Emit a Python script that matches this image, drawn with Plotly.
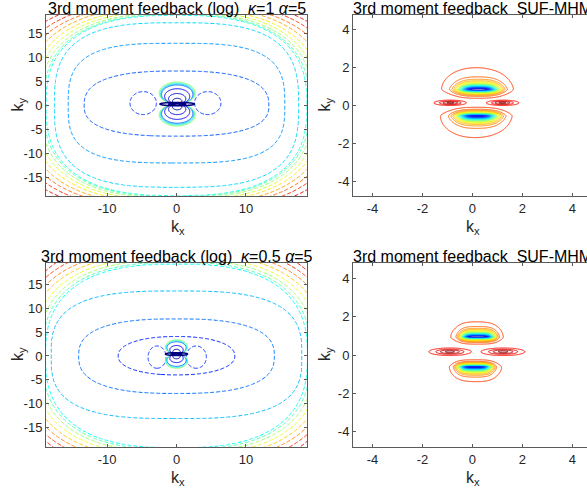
import numpy as np
import plotly.graph_objects as go

# ------------------------------------------------------------------
# Contour geometry read in (kx, ky) units
# ------------------------------------------------------------------

# Log-feedback, kappa = 1 -------------------------------------------
# dashed closed levels: half-width on kx, half-height above / below, squareness
LOG1_RING_KX = [13.3, 15.6, 17.6]
LOG1_RING_KY_UP = [7.2, 13.0, 17.3]
LOG1_RING_KY_DN = [6.4, 12.0, 17.1]
LOG1_RING_SHAPE = [2.6, 3.2, 3.0]
# outer dashed levels only cut the corners: |kx| where each meets the
# top/bottom edge, |ky| where it meets the side edge
LOG1_CORNER_KX = [0.0, 3.6, 6.2, 8.4, 10.2, 12.0, 13.6, 15.3, 17.0]
LOG1_CORNER_KY = [2.5, 5.6, 8.0, 10.0, 11.7, 13.3, 14.8, 16.2, 17.6]
# dashed side lobes
LOG1_SIDE_KX = [-4.8, 4.5]
LOG1_SIDE_KY = [0.5, 0.5]
LOG1_SIDE_HALF_KX = [1.9, 1.9]
LOG1_SIDE_HALF_KY = [2.4, 2.4]
# solid lobes above / below the origin (circles touching at one point)
LOG1_LOBE_TOUCH = [0.1, 0.3]
LOG1_LOBE_STRETCH = 1.13
LOG1_LOBE_OUTER = [2.0, 2.1, 2.2, 2.3]
LOG1_LOBE_INNER = [0.6, 1.1, 1.6]
LOG1_BAR = [0.1, 0.3, 2.5, 0.35]          # centre kx, centre ky, half-length, half-height

# Log-feedback, kappa = 0.5 -----------------------------------------
LOG2_RING_KX = [8.4, 14.1, 18.1]
LOG2_RING_KY_UP = [4.1, 7.8, 13.7]
LOG2_RING_KY_DN = [4.0, 7.9, 13.2]
LOG2_RING_SHAPE = [2.2, 2.6, 3.0]
LOG2_CORNER_KX = [2.0, 5.6, 8.2, 10.4, 12.4, 14.2, 16.0, 17.6]
LOG2_CORNER_KY = [3.5, 6.8, 9.2, 11.4, 13.3, 15.0, 16.6, 18.0]
LOG2_SIDE_KX = [-2.8, 2.85]
LOG2_SIDE_KY = [-0.25, -0.25]
LOG2_SIDE_HALF_KX = [1.3, 1.45]
LOG2_SIDE_HALF_KY = [2.35, 2.35]
LOG2_LOBE_TOUCH = [0.0, 0.4]
LOG2_LOBE_STRETCH = 1.07
LOG2_LOBE_OUTER = [1.3, 1.4, 1.5]
LOG2_LOBE_INNER = [0.5, 0.9]
LOG2_BAR = [0.0, 0.4, 1.6, 0.3]

# SUF-MHM feedback: sum of smooth bumps
# amplitude, centre kx, centre ky, width kx, kx steepness,
# width away from ky=0, width towards ky=0, ky steepness
SUF1_AMP = [-1.0, -0.06, -0.95, -0.06, 0.2, 0.2]
SUF1_KX = [0.25, 0.15, 0.2, 0.1, -0.88, 1.2]
SUF1_KY = [0.85, 0.9, -0.55, -0.6, 0.14, 0.14]
SUF1_WX = [0.8, 1.6, 0.8, 1.6, 0.45, 0.45]
SUF1_QX = [3, 2, 3, 2, 2, 2]
SUF1_WOUT = [0.28, 1.3, 0.28, 1.3, 0.10, 0.10]
SUF1_WIN = [0.18, 0.35, 0.17, 0.40, 0.10, 0.10]
SUF1_QY = [1.4, 2, 1.4, 2, 2, 2]

SUF2_AMP = [-1.0, -0.06, -0.95, -0.06, 0.2, 0.2]
SUF2_KX = [0.22, 0.15, 0.1, 0.15, -0.9, 1.23]
SUF2_KY = [0.95, 0.95, -0.62, -0.65, 0.17, 0.17]
SUF2_WX = [0.66, 1.2, 0.66, 1.2, 0.57, 0.59]
SUF2_QX = [4, 2, 4, 2, 2, 2]
SUF2_WOUT = [0.24, 0.85, 0.24, 0.80, 0.135, 0.135]
SUF2_WIN = [0.14, 0.30, 0.14, 0.30, 0.135, 0.135]
SUF2_QY = [1.4, 2, 1.4, 2, 2, 2]

SUF_LEVEL_START, SUF_LEVEL_END, SUF_LEVEL_STEP = -0.975, 0.19, 0.0525

TITLES = ["3rd moment feedback (log)\u00a0\u00a0<i>\u03ba</i>=1 <i>\u03b1</i>=5",
          "3rd moment feedback\u00a0\u00a0SUF-MHM",
          "3rd moment feedback (log)\u00a0\u00a0<i>\u03ba</i>=0.5 <i>\u03b1</i>=5",
          "3rd moment feedback\u00a0\u00a0SUF-MHM"]
LOG_XTICKS = [-10, 0, 10]
LOG_YTICKS = [-15, -10, -5, 0, 5, 10, 15]
SUF_TICKS = [-4, -2, 0, 2, 4]

# ------------------------------------------------------------------
# Styling / layout
# ------------------------------------------------------------------
W, H = 587, 494
FONT = "Liberation Sans, Arial, Helvetica, sans-serif"
TEXT = "#262626"
AXC = "#5a5a5a"
DASH = "4px,2px"

JET_PTS = [(0.0, (0, 0, 128)), (0.125, (0, 0, 255)), (0.375, (0, 255, 255)),
           (0.625, (255, 255, 0)), (0.875, (255, 0, 0)), (1.0, (128, 0, 0))]


def jet(t):
    t = min(max(t, 0.0), 1.0)
    for (t0, c0), (t1, c1) in zip(JET_PTS[:-1], JET_PTS[1:]):
        if t <= t1:
            f = (t - t0) / (t1 - t0)
            return "rgb(%d,%d,%d)" % tuple(round(a + f * (b - a)) for a, b in zip(c0, c1))
    return "rgb(128,0,0)"


def jet_scale(p0, p1, n=41):
    """Part of the jet map between positions p0 and p1, stretched over [0, 1]."""
    return [[k / (n - 1), jet(p0 + (p1 - p0) * k / (n - 1))] for k in range(n)]


# panel boxes in pixels: left, top, right, bottom ; plus data ranges
PANELS = [
    dict(box=(46, 15, 307, 196), xr=[-18.8, 18.8], yr=[-18.9, 18.9]),
    dict(box=(353, 15, 587, 196), xr=[-4.78, 4.59], yr=[-4.79, 4.79]),
    dict(box=(46, 263, 307, 447), xr=[-18.8, 18.8], yr=[-19.2, 19.6]),
    dict(box=(353, 263, 587, 447), xr=[-4.78, 4.59], yr=[-4.83, 4.83]),
]

fig = go.Figure()


def corner_axes(xt, ys, fx, fy, p=2.6):
    """Semi-axes of a superellipse through (xt, fy) and (fx, ys)."""
    a_out, b_out = [], []
    for x0, y0 in zip(xt, ys):
        M = np.array([[x0 ** p, fy ** p], [fx ** p, y0 ** p]])
        u, v = np.linalg.solve(M, np.ones(2))
        a_out.append(u ** (-1 / p))
        b_out.append(v ** (-1 / p))
    return a_out, b_out


def nested_field(X, Y, a, bt, bb, p):
    """Fractional level index: equals i exactly on closed curve i."""
    r = np.hypot(X, Y)
    safe = np.where(r < 1e-9, 1.0, r)
    c = np.where(r < 1e-9, 1.0, np.abs(X) / safe)
    s = np.where(r < 1e-9, 0.0, np.abs(Y) / safe)
    R = []
    for ai, bti, bbi, pi in zip(a, bt, bb, p):
        b = np.where(Y >= 0, bti, bbi)
        R.append(1.0 / ((c / ai) ** pi + (s / b) ** pi) ** (1.0 / pi))
    R = np.maximum.accumulate(np.array(R), axis=0)
    n = len(a)
    k = np.clip(np.sum(R <= r[None], axis=0) - 1, 0, n - 2)
    R0 = np.take_along_axis(R, k[None], 0)[0]
    R1 = np.take_along_axis(R, (k + 1)[None], 0)[0]
    return k + (r - R0) / (R1 - R0)


def line_contour(x, y, z, xa, ya, levels, pos, width=1.0, dash=None):
    """Contour lines at evenly spaced levels, coloured from jet positions pos[0]..pos[1]."""
    step = levels[1] - levels[0] if len(levels) > 1 else 1.0
    line = dict(width=width, smoothing=1)
    if dash:
        line["dash"] = dash
    fig.add_trace(go.Contour(
        x=x, y=y, z=z, xaxis=xa, yaxis=ya, autocontour=False,
        contours=dict(start=levels[0], end=levels[-1] + 0.01 * step, size=step,
                      coloring="lines"),
        colorscale=jet_scale(pos[0], pos[1]), showscale=False,
        line=line, hoverinfo="skip"))


def add_log_panel(ax, ring, corner, side, lobe, bar, frame, dash_pos):
    xa, ya = ("x" if ax == 1 else "x%d" % ax), ("y" if ax == 1 else "y%d" % ax)
    fx, fy = frame
    ca, cb = corner_axes(corner[0], corner[1], fx, fy)
    a = list(ring[0]) + ca
    bt = list(ring[1]) + cb
    bb = list(ring[2]) + cb
    p = list(ring[3]) + [2.6] * len(ca)
    g = np.linspace(-19.8, 19.8, 265)
    X, Y = np.meshgrid(g, g)
    Z = np.round(nested_field(X, Y, a, bt, bb, p), 4)
    n = len(a)
    line_contour(g, g, Z, xa, ya, list(range(n)), dash_pos, dash=DASH)

    # centre region
    h = np.linspace(-8.0, 8.0, 241)
    Xc, Yc = np.meshgrid(h, h)
    # dashed side lobes
    rho = np.full_like(Xc, 10.0)
    for cx, cy, hx, hy in zip(*side):
        rho = np.minimum(rho, np.sqrt(((Xc - cx) / hx) ** 2 + ((Yc - cy) / hy) ** 2))
    fig.add_trace(go.Contour(
        x=h, y=h, z=np.round(rho, 4), xaxis=xa, yaxis=ya, autocontour=False,
        contours=dict(start=1, end=1, size=1, coloring="none"), showscale=False,
        line=dict(width=1, dash=DASH, color=jet(0.17)), hoverinfo="skip"))
    # solid lobes: circles touching at one point
    (tx, ty), stretch, outer, inner = lobe
    Xs = (Xc - tx) / stretch
    Ys = Yc - ty
    G = np.clip((Xs ** 2 + Ys ** 2) / (2 * np.maximum(np.abs(Ys), 1e-6)), 0, 20)
    G = np.round(G, 4)
    line_contour(h, h, G, xa, ya, outer, (0.22, 0.52))
    line_contour(h, h, G, xa, ya, inner, (0.02, 0.12))
    bx, by, bhx, bhy = bar
    B = np.round(np.sqrt(((Xc - bx) / bhx) ** 2 + ((Yc - by) / bhy) ** 2), 4)
    fig.add_trace(go.Contour(
        x=h, y=h, z=B, xaxis=xa, yaxis=ya, autocontour=False,
        contours=dict(start=0.5, end=1.0, size=0.5, coloring="none"), showscale=False,
        line=dict(width=1.5, color=jet(0.0)), hoverinfo="skip"))


def add_suf_panel(ax, amp, kx, ky, wx, qx, wout, win, qy):
    xa, ya = "x%d" % ax, "y%d" % ax
    gx = np.linspace(-2.6, 2.6, 261)
    gy = np.linspace(-2.4, 2.4, 321)
    X, Y = np.meshgrid(gx, gy)
    F = np.zeros_like(X)
    for a, cx, cy, sx, q, so, si, r in zip(amp, kx, ky, wx, qx, wout, win, qy):
        dy = Y - cy
        away = (dy >= 0) if cy >= 0 else (dy <= 0)
        sy = np.where(away, so, si)
        F += a * np.exp(-np.abs((X - cx) / sx) ** q - np.abs(dy / sy) ** r)
    nlev = int(np.floor((SUF_LEVEL_END - SUF_LEVEL_START) / SUF_LEVEL_STEP + 1e-6)) + 1
    levels = [SUF_LEVEL_START + k * SUF_LEVEL_STEP for k in range(nlev)]
    fmin, fmax = float(F.min()), float(F.max())
    pos = ((levels[0] - fmin) / (fmax - fmin), (levels[-1] - fmin) / (fmax - fmin))
    line_contour(gx, gy, np.round(F, 5), xa, ya, levels, pos)


add_log_panel(1, (LOG1_RING_KX, LOG1_RING_KY_UP, LOG1_RING_KY_DN, LOG1_RING_SHAPE),
              (LOG1_CORNER_KX, LOG1_CORNER_KY),
              (LOG1_SIDE_KX, LOG1_SIDE_KY, LOG1_SIDE_HALF_KX, LOG1_SIDE_HALF_KY),
              (LOG1_LOBE_TOUCH, LOG1_LOBE_STRETCH, LOG1_LOBE_OUTER, LOG1_LOBE_INNER),
              LOG1_BAR, (18.8, 18.9), (0.21, 0.90))
add_suf_panel(2, SUF1_AMP, SUF1_KX, SUF1_KY, SUF1_WX, SUF1_QX, SUF1_WOUT, SUF1_WIN, SUF1_QY)
add_log_panel(3, (LOG2_RING_KX, LOG2_RING_KY_UP, LOG2_RING_KY_DN, LOG2_RING_SHAPE),
              (LOG2_CORNER_KX, LOG2_CORNER_KY),
              (LOG2_SIDE_KX, LOG2_SIDE_KY, LOG2_SIDE_HALF_KX, LOG2_SIDE_HALF_KY),
              (LOG2_LOBE_TOUCH, LOG2_LOBE_STRETCH, LOG2_LOBE_OUTER, LOG2_LOBE_INNER),
              LOG2_BAR, (18.8, 19.4), (0.16, 0.90))
add_suf_panel(4, SUF2_AMP, SUF2_KX, SUF2_KY, SUF2_WX, SUF2_QX, SUF2_WOUT, SUF2_WIN, SUF2_QY)

# ------------------------------------------------------------------
# Axes
# ------------------------------------------------------------------
layout = {}
annotations = []
for i, P in enumerate(PANELS, start=1):
    l, t, r, b = P["box"]
    is_log = i in (1, 3)
    xt = LOG_XTICKS if is_log else SUF_TICKS
    yt = LOG_YTICKS if is_log else SUF_TICKS
    common = dict(showgrid=False, zeroline=False, showline=True, linecolor=AXC, linewidth=1,
                  ticks="inside", ticklen=3, tickwidth=1, tickcolor=AXC,
                  tickfont=dict(family=FONT, size=13, color=TEXT))
    sfx = "" if i == 1 else str(i)
    layout["xaxis" + sfx] = dict(domain=[l / W, r / W], range=P["xr"], tickvals=xt,
                                 ticktext=["%g" % v for v in xt], mirror="ticks",
                                 anchor="y" + sfx, **common)
    layout["yaxis" + sfx] = dict(domain=[1 - b / H, 1 - t / H], range=P["yr"], tickvals=yt,
                                 ticktext=["%g" % v for v in yt],
                                 mirror="ticks" if is_log else False,
                                 anchor="x" + sfx, **common)
    cx = (l + 261 / 2) if is_log else 472.3
    annotations.append(dict(text=TITLES[i - 1], x=cx / W, y=1 - (t - 6.5) / H,
                            xref="paper", yref="paper", showarrow=False,
                            xanchor="center", yanchor="middle",
                            font=dict(family=FONT, size=16, color="#000000")))
    annotations.append(dict(text="k<sub>x</sub>", x=(cx + 1) / W, y=1 - (b + 31) / H,
                            xref="paper", yref="paper", showarrow=False,
                            xanchor="center", yanchor="middle",
                            font=dict(family=FONT, size=16, color=TEXT)))
    annotations.append(dict(text="k<sub>y</sub>", x=(l - 28) / W, y=1 - ((t + b) / 2 - 1) / H,
                            xref="paper", yref="paper", showarrow=False, textangle=-90,
                            xanchor="center", yanchor="middle",
                            font=dict(family=FONT, size=16, color=TEXT)))

fig.update_layout(**layout)
fig.update_layout(width=W, height=H, autosize=False, margin=dict(l=0, r=0, t=0, b=0),
                  paper_bgcolor="white", plot_bgcolor="white", showlegend=False,
                  annotations=annotations)

fig.write_html("out.html")
